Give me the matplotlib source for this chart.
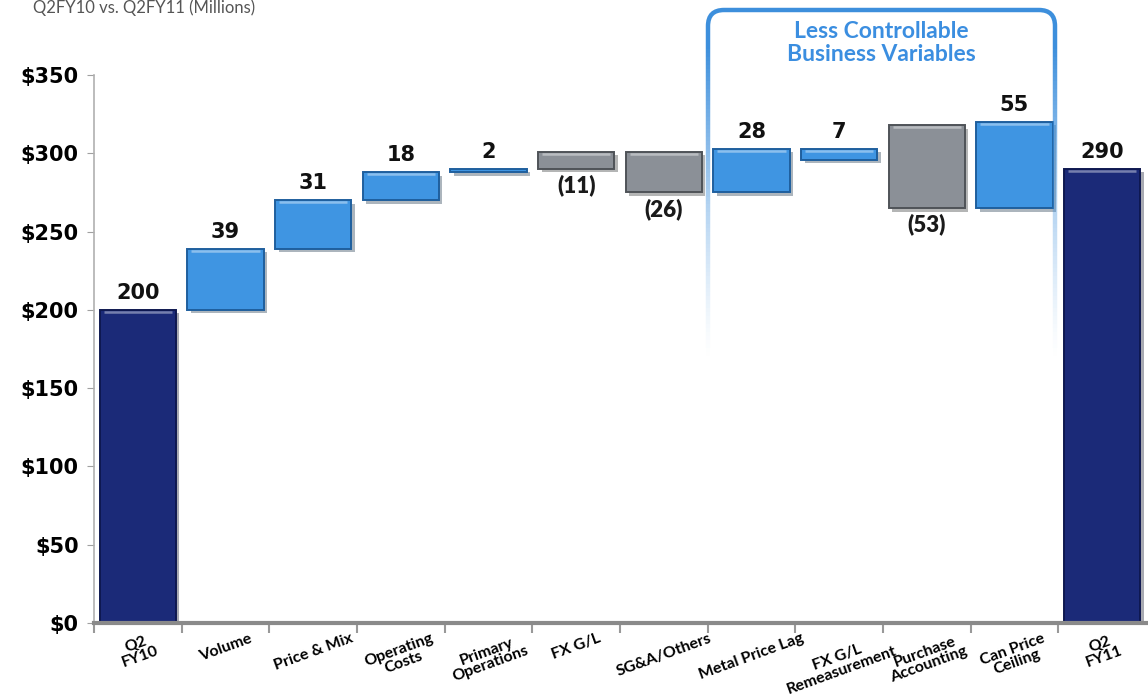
import numpy as np
import matplotlib
matplotlib.use("Agg")
import matplotlib.pyplot as plt
import matplotlib.patheffects as pe
from matplotlib.path import Path
from matplotlib.patches import PathPatch
from matplotlib.collections import LineCollection

# categories and bar extents as drawn in the reference (millions)
categories = ["Q2\nFY10", "Volume", "Price & Mix", "Operating\nCosts", "Primary\nOperations",
              "FX G/L", "SG&A/Others", "Metal Price Lag", "FX G/L\nRemeasurement",
              "Purchase\nAccounting", "Can Price\nCeiling", "Q2\nFY11"]
bar_low = [0, 200, 239, 270, 288, 290, 275, 275, 296, 265, 265, 0]
bar_high = [200, 239, 270, 288, 290, 301, 301, 303, 303, 318, 320, 290]
value_labels = ["200", "39", "31", "18", "2", "(11)", "(26)", "28", "7", "(53)", "55", "290"]
kinds = ["total", "up", "up", "up", "up", "down", "down", "up", "up", "down", "up", "total"]
yticks = [0, 50, 100, 150, 200, 250, 300, 350]

face = {"total": "#1b2a78", "up": "#3f95e2", "down": "#8b9097"}
edge = {"total": "#0e1850", "up": "#1f5f9e", "down": "#4f5358"}

W, H = 1148, 698
fig = plt.figure(figsize=(W / 100, H / 100), dpi=100)
ax = fig.add_axes([94 / W, 75 / H, (1146 - 94) / W, 548 / H])

x = np.arange(len(categories))
for i in range(len(categories)):
    lo, hi = bar_low[i], bar_high[i]
    k = kinds[i]
    b = ax.bar(x[i], hi - lo, bottom=lo, width=0.87, color=face[k],
               edgecolor=edge[k], linewidth=1.4, zorder=3)
    b[0].set_path_effects([pe.SimplePatchShadow(offset=(2.5, -2.5), alpha=0.35),
                           pe.Normal()])
    # small bevel highlight near top
    if hi - lo > 4:
        ax.plot([x[i] - 0.39, x[i] + 0.39], [hi - 1.4, hi - 1.4],
                color="white", alpha=0.4, lw=1.8, zorder=4, solid_capstyle="butt")
    if k == "down":
        ax.annotate(value_labels[i], (x[i], lo), xytext=(0, -4), textcoords="offset points",
                    ha="center", va="top", fontsize=16, fontweight="heavy",
                    family="Lato", color="#1a1a1a")
    else:
        ax.annotate(value_labels[i], (x[i], hi), xytext=(0, 5), textcoords="offset points",
                    ha="center", va="bottom", fontsize=15, fontweight="bold",
                    family="DejaVu Sans", color="#111111")

ax.set_xlim(-0.5, len(categories) - 0.5)
ax.set_ylim(0, 350)
ax.set_yticks(yticks)
ax.set_yticklabels([f"${v}" for v in yticks], fontsize=15, fontweight="bold",
                   family="DejaVu Sans")
ax.tick_params(axis="y", length=5, color="#a0a0a0", pad=6)

ax.set_xticks(x)
ax.set_xticklabels(categories, rotation=20, ha="center", va="top",
                   fontsize=11.5, fontweight="bold", family="Lato",
                   linespacing=0.95)
ax.tick_params(axis="x", length=0, pad=6)
ax.set_xticks(np.arange(len(categories)) - 0.5, minor=True)
ax.tick_params(axis="x", which="minor", length=7, color="#999999", width=1.5)

for s in ["top", "right"]:
    ax.spines[s].set_visible(False)
ax.spines["left"].set_color("#b0b0b0")
ax.spines["left"].set_linewidth(1.2)
ax.spines["bottom"].set_color("#8a8a8a")
ax.spines["bottom"].set_linewidth(3)
ax.spines["bottom"].set_zorder(5)

# title at top-left
fig.text(33 / W, 1 - 13 / H, "Q2FY10 vs. Q2FY11 (Millions)", fontsize=12,
         family="Lato", color="#555555", va="baseline", ha="left")

# rounded "Less Controllable" box, fading down
blue = "#3d8fdc"
xl, xr, yt, r = 708, 1055, 10, 16
def fp(px, py):
    return (px / W, 1 - py / H)
verts = [fp(xl, 45), fp(xl, yt + r), fp(xl, yt), fp(xl + r, yt),
         fp(xr - r, yt), fp(xr, yt), fp(xr, yt + r), fp(xr, 45)]
codes = [Path.MOVETO, Path.LINETO, Path.CURVE3, Path.CURVE3,
         Path.LINETO, Path.CURVE3, Path.CURVE3, Path.LINETO]
fig.add_artist(PathPatch(Path(verts, codes), transform=fig.transFigure,
                         fill=False, edgecolor=blue, lw=3.2))
ys = np.linspace(45, 360, 80)
for xs in (xl, xr):
    segs = [[fp(xs, ys[j]), fp(xs, ys[j + 1])] for j in range(len(ys) - 1)]
    alphas = np.linspace(1, 0, len(segs)) ** 1.3
    cols = [matplotlib.colors.to_rgba(blue, a) for a in alphas]
    fig.add_artist(LineCollection(segs, colors=cols, linewidths=3.2,
                                  transform=fig.transFigure))
fig.text(881 / W, 1 - 43 / H, "Less Controllable\nBusiness Variables",
         ha="center", va="center", fontsize=16.5, fontweight="bold",
         family="Lato", color="#3b8ee0", linespacing=1.08)

fig.savefig("out.png", dpi=100)
